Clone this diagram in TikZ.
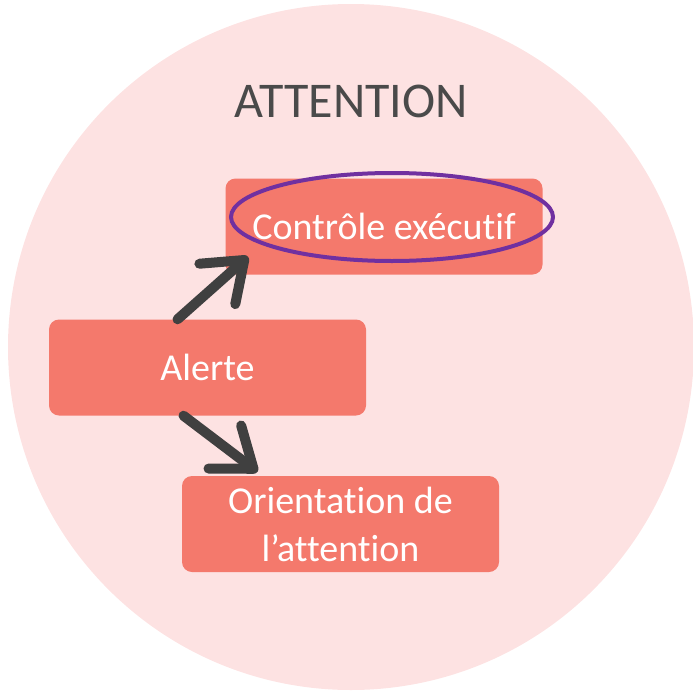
\documentclass[tikz,border=0pt]{standalone}
\usepackage{fontspec}
\setmainfont[Ligatures=NoCommon]{Carlito}
\usetikzlibrary{positioning}
\usetikzlibrary{arrows.meta}
\usepackage{xcolor}
\definecolor{fondrose}{HTML}{FDE2E2}
\definecolor{saumon}{HTML}{F4796C}
\definecolor{grisfleche}{HTML}{404040}
\definecolor{gristitre}{HTML}{4A4A4A}
\definecolor{violetcadre}{HTML}{7030A0}

\begin{document}
\begin{tikzpicture}[x=1pt, y=-1pt,
  boite/.style = {shape=rectangle, rounded corners=10pt,
    fill=saumon, text=white, align=center,
    minimum width=317pt, minimum height=96pt,
    font=\fontsize{38}{48}\selectfont},
  fleche/.style={-{Straight Barb[length=36pt,width=54pt,round]},
    line width=10pt, draw=grisfleche, line cap=round}
  ]
  \useasboundingbox (0,0) rectangle (693,693);
  \fill[fondrose] (351,347) circle [radius=343pt];
  \node[text=gristitre, font=\fontsize{50}{60}\selectfont] (titre) at (351,101) {ATTENTION};
  \node[boite] (controle) at (384,226.5) {Contrôle exécutif};
  \node[boite] (alerte) at (207.5,367.5) {Alerte};
  \node[boite] (orientation) at (340.5,524) {Orientation de\\l’attention};
  % cadre autour du controle
  \draw[line width=4pt, draw=violetcadre] (392,217) ellipse [x radius=161, y radius=44];
  \draw[fleche] ([xshift=-30pt]alerte.north) -- ([xshift=-136pt,yshift=18pt]controle.south);
  \draw[fleche] ([xshift=-24pt]alerte.south) -- ([xshift=-83pt,yshift=4pt]orientation.north);
\end{tikzpicture}
\end{document}
